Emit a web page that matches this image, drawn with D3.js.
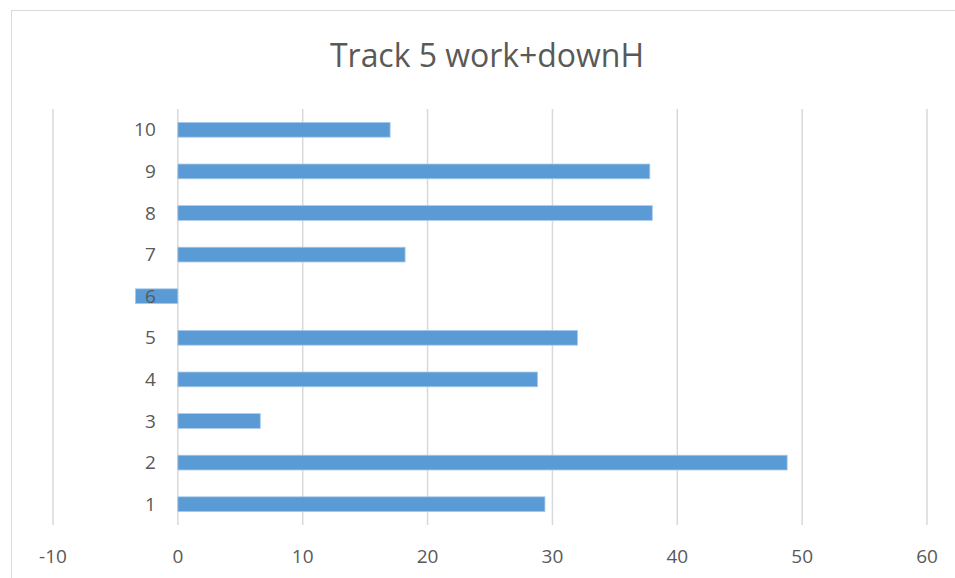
<!DOCTYPE html>
<html>
<head>
<meta charset="utf-8">
<script src="https://cdn.jsdelivr.net/npm/d3@7"></script>
<style>
  body { margin: 0; background: #fff; }
  svg { display: block; font-family: "Open Sans", sans-serif; }
</style>
</head>
<body>
<svg id="chart" width="955" height="578"></svg>
<script>
const title = 'Track 5 work+downH';
const categories = ['1', '2', '3', '4', '5', '6', '7', '8', '9', '10'];
const values = [29.4, 48.8, 6.6, 28.8, 32.0, -3.4, 18.2, 38.0, 37.8, 17.0];
const xTicks = [-10, 0, 10, 20, 30, 40, 50, 60];

const svg = d3.select('#chart');
const margin = { top: 109, right: 28, bottom: 53, left: 53 };
const width = 955 - margin.left - margin.right;
const height = 578 - margin.top - margin.bottom;

// chart border
svg.append('rect')
  .attr('x', 11.5).attr('y', 10.5)
  .attr('width', 960).attr('height', 600)
  .attr('fill', 'none')
  .attr('stroke', '#d9d9d9');

svg.append('text')
  .attr('x', 487).attr('y', 67)
  .attr('text-anchor', 'middle')
  .attr('fill', '#595959')
  .attr('font-size', 32)
  .attr('textLength', 314)
  .text(title);

const x = d3.scaleLinear().domain([-10, 60]).range([0, width]);
const y = d3.scaleBand().domain(categories.slice().reverse()).range([0, height]).paddingInner(0);

const g = svg.append('g').attr('transform', `translate(${margin.left}, ${margin.top})`);

g.append('g')
  .attr('class', 'grid')
  .selectAll('line')
  .data(xTicks)
  .enter()
  .append('line')
  .attr('x1', d => x(d)).attr('x2', d => x(d))
  .attr('y1', 0).attr('y2', height)
  .attr('stroke', '#d9d9d9')
  .attr('stroke-width', 1.5);

const barH = y.bandwidth() * 0.355;
g.append('g')
  .selectAll('rect')
  .data(values)
  .enter()
  .append('rect')
  .attr('x', d => x(Math.min(0, d)))
  .attr('width', d => Math.abs(x(d) - x(0)))
  .attr('y', (d, i) => y(categories[i]) + (y.bandwidth() - barH) / 2)
  .attr('height', barH)
  .attr('fill', '#5b9bd5')
  .attr('stroke', '#a9c9ea')
  .attr('stroke-width', 0.8);

g.append('g')
  .selectAll('text')
  .data(categories)
  .enter()
  .append('text')
  .attr('x', x(0) - 22)
  .attr('y', d => y(d) + y.bandwidth() / 2)
  .attr('dy', '0.35em')
  .attr('text-anchor', 'end')
  .attr('fill', '#595959')
  .attr('font-size', 19)
  .text(d => d);

g.append('g')
  .selectAll('text')
  .data(xTicks)
  .enter()
  .append('text')
  .attr('x', d => x(d))
  .attr('y', height + 31)
  .attr('dy', '0.35em')
  .attr('text-anchor', 'middle')
  .attr('fill', '#595959')
  .attr('font-size', 19)
  .text(d => d);
</script>
</body>
</html>
